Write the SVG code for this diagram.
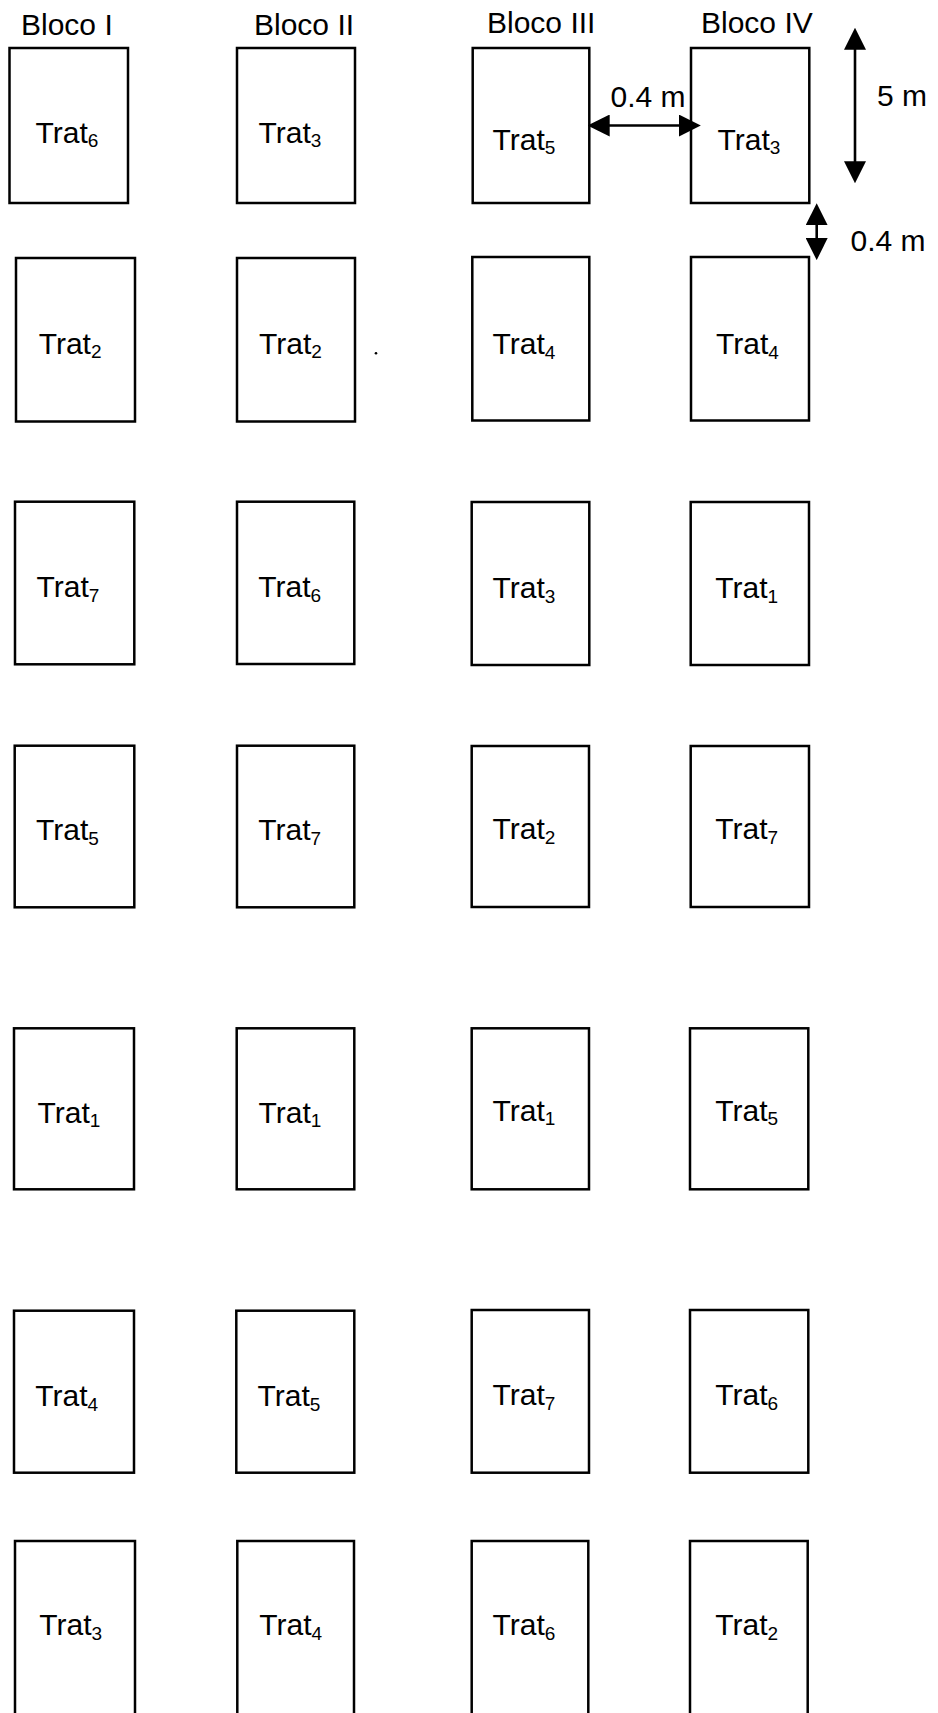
<svg xmlns="http://www.w3.org/2000/svg" width="938" height="1713" viewBox="0 0 938 1713">
<style>
.box{fill:#fff;stroke:#000;stroke-width:2.5}
.lbl{font-family:"Liberation Sans",Arial,sans-serif;font-size:30px;fill:#000}
.sub{font-size:19px}
.dim{stroke:#000;stroke-width:2.6;fill:none}
</style>
<defs>
<marker id="ah" markerUnits="userSpaceOnUse" markerWidth="22" markerHeight="22" viewBox="0 0 20 20" refX="12" refY="10" orient="auto-start-reverse">
<path d="M0,0 L20,10 L0,20 z" fill="#000"/>
</marker>
</defs>
<rect width="938" height="1713" fill="#fff"/>
<g id="headers">
<text class="lbl" x="21" y="35">Bloco I</text>
<text class="lbl" x="254" y="35">Bloco II</text>
<text class="lbl" x="487" y="33">Bloco III</text>
<text class="lbl" x="701" y="33">Bloco IV</text>
</g>
<g id="r1c1"><rect class="box" x="9.5" y="48" width="118.5" height="155"/><text class="lbl" x="35.5" y="142.7">Trat<tspan class="sub" dy="4.5">6</tspan></text></g>
<g id="r1c2"><rect class="box" x="237" y="48" width="118" height="155"/><text class="lbl" x="258.5" y="142.7">Trat<tspan class="sub" dy="4.5">3</tspan></text></g>
<g id="r1c3"><rect class="box" x="472.7" y="48" width="116.6" height="155"/><text class="lbl" x="492.5" y="149.5">Trat<tspan class="sub" dy="4.5">5</tspan></text></g>
<g id="r1c4"><rect class="box" x="691" y="48" width="118.3" height="155"/><text class="lbl" x="717.5" y="149.5">Trat<tspan class="sub" dy="4.5">3</tspan></text></g>

<g id="r2c1"><rect class="box" x="16" y="258" width="119" height="163.5"/><text class="lbl" x="38.7" y="353.5">Trat<tspan class="sub" dy="4.5">2</tspan></text></g>
<g id="r2c2"><rect class="box" x="237" y="258" width="118" height="163.5"/><text class="lbl" x="259" y="353.5">Trat<tspan class="sub" dy="4.5">2</tspan></text></g>
<g id="r2c3"><rect class="box" x="472.3" y="257" width="117" height="163.5"/><text class="lbl" x="492.5" y="354">Trat<tspan class="sub" dy="4.5">4</tspan></text></g>
<g id="r2c4"><rect class="box" x="691" y="257" width="118" height="163.5"/><text class="lbl" x="716" y="354">Trat<tspan class="sub" dy="4.5">4</tspan></text></g>

<g id="r3c1"><rect class="box" x="15" y="501.7" width="119.3" height="162.6"/><text class="lbl" x="36.5" y="597.3">Trat<tspan class="sub" dy="4.5">7</tspan></text></g>
<g id="r3c2"><rect class="box" x="237" y="501.7" width="117.3" height="162.3"/><text class="lbl" x="258.3" y="597.3">Trat<tspan class="sub" dy="4.5">6</tspan></text></g>
<g id="r3c3"><rect class="box" x="471.7" y="502" width="117.6" height="163"/><text class="lbl" x="492.5" y="598">Trat<tspan class="sub" dy="4.5">3</tspan></text></g>
<g id="r3c4"><rect class="box" x="690.7" y="502" width="118.3" height="163"/><text class="lbl" x="715.3" y="598">Trat<tspan class="sub" dy="4.5">1</tspan></text></g>

<g id="r4c1"><rect class="box" x="14.7" y="745.7" width="119.6" height="161.6"/><text class="lbl" x="36" y="840">Trat<tspan class="sub" dy="4.5">5</tspan></text></g>
<g id="r4c2"><rect class="box" x="237" y="745.7" width="117.3" height="161.6"/><text class="lbl" x="258.3" y="840">Trat<tspan class="sub" dy="4.5">7</tspan></text></g>
<g id="r4c3"><rect class="box" x="471.7" y="746" width="117.3" height="161"/><text class="lbl" x="492.5" y="839">Trat<tspan class="sub" dy="4.5">2</tspan></text></g>
<g id="r4c4"><rect class="box" x="690.7" y="746" width="118.3" height="161"/><text class="lbl" x="715.3" y="839">Trat<tspan class="sub" dy="4.5">7</tspan></text></g>

<g id="r5c1"><rect class="box" x="14" y="1028.3" width="120" height="161"/><text class="lbl" x="37.5" y="1122.7">Trat<tspan class="sub" dy="4.5">1</tspan></text></g>
<g id="r5c2"><rect class="box" x="236.7" y="1028.3" width="117.6" height="161"/><text class="lbl" x="258.5" y="1122.7">Trat<tspan class="sub" dy="4.5">1</tspan></text></g>
<g id="r5c3"><rect class="box" x="471.7" y="1028.3" width="117.3" height="161"/><text class="lbl" x="492.5" y="1120.7">Trat<tspan class="sub" dy="4.5">1</tspan></text></g>
<g id="r5c4"><rect class="box" x="690" y="1028.3" width="118.3" height="161"/><text class="lbl" x="715.3" y="1120.7">Trat<tspan class="sub" dy="4.5">5</tspan></text></g>

<g id="r6c1"><rect class="box" x="14" y="1310.7" width="120" height="162"/><text class="lbl" x="35.3" y="1406">Trat<tspan class="sub" dy="4.5">4</tspan></text></g>
<g id="r6c2"><rect class="box" x="236.3" y="1310.7" width="118" height="162"/><text class="lbl" x="257.5" y="1406">Trat<tspan class="sub" dy="4.5">5</tspan></text></g>
<g id="r6c3"><rect class="box" x="471.7" y="1310" width="117.3" height="162.7"/><text class="lbl" x="492.5" y="1405">Trat<tspan class="sub" dy="4.5">7</tspan></text></g>
<g id="r6c4"><rect class="box" x="690" y="1310" width="118.3" height="162.7"/><text class="lbl" x="715.3" y="1405">Trat<tspan class="sub" dy="4.5">6</tspan></text></g>

<g id="r7c1"><rect class="box" x="15" y="1541" width="120" height="190"/><text class="lbl" x="39.3" y="1635">Trat<tspan class="sub" dy="4.5">3</tspan></text></g>
<g id="r7c2"><rect class="box" x="237.3" y="1541" width="116.7" height="190"/><text class="lbl" x="259.3" y="1635">Trat<tspan class="sub" dy="4.5">4</tspan></text></g>
<g id="r7c3"><rect class="box" x="471.7" y="1541" width="116.6" height="190"/><text class="lbl" x="492.5" y="1635">Trat<tspan class="sub" dy="4.5">6</tspan></text></g>
<g id="r7c4"><rect class="box" x="690" y="1541" width="117.7" height="190"/><text class="lbl" x="715.3" y="1635">Trat<tspan class="sub" dy="4.5">2</tspan></text></g>

<g id="connectors">
<line class="dim" x1="596.5" y1="125.5" x2="692" y2="125.5" marker-start="url(#ah)" marker-end="url(#ah)"/>
<line class="dim" x1="855" y1="36.5" x2="855" y2="174.5" marker-start="url(#ah)" marker-end="url(#ah)"/>
<line class="dim" x1="816.7" y1="212" x2="816.7" y2="251.3" marker-start="url(#ah)" marker-end="url(#ah)"/>
</g>
<g id="dim-labels">
<text class="lbl" x="610.5" y="106.5">0.4 m</text>
<text class="lbl" x="877" y="106">5 m</text>
<text class="lbl" x="850.5" y="250.7">0.4 m</text>
</g>
<circle cx="376" cy="353.3" r="1.3" fill="#000"/>
</svg>
